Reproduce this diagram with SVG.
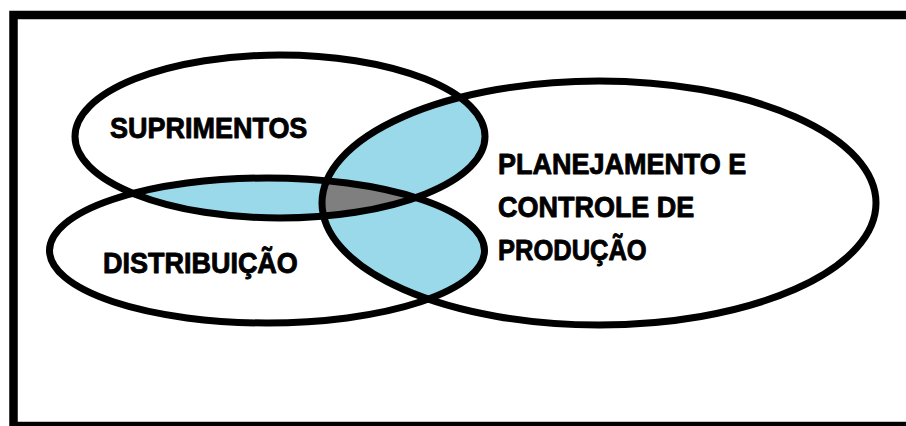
<svg xmlns="http://www.w3.org/2000/svg" width="906" height="426" viewBox="0 0 906 426">
<style>
.ring{fill:none;stroke:#000;stroke-width:7}
.lbl{font-family:"Liberation Sans",Arial,sans-serif;font-weight:bold;font-size:30px;fill:#000;stroke:#000;stroke-width:0.9;stroke-linejoin:round}
.blue{fill:#99D9EA}
.gray{fill:#7F7F7F}
</style>
<defs>
<clipPath id="cS"><ellipse cx="280" cy="136.5" rx="205" ry="81.5"/></clipPath>
<clipPath id="cD"><ellipse cx="267" cy="250.5" rx="217.5" ry="72.5"/></clipPath>
<clipPath id="cP"><ellipse cx="599" cy="203" rx="277" ry="122"/></clipPath>
</defs>
<rect x="0" y="0" width="906" height="426" fill="#fff"/>
<rect id="frame" x="13.5" y="15" width="900" height="411" fill="none" stroke="#000" stroke-width="8.5"/>
<g id="overlaps">
<ellipse class="blue" clip-path="url(#cP)" cx="280" cy="136.5" rx="205" ry="81.5"/>
<ellipse class="blue" clip-path="url(#cP)" cx="267" cy="250.5" rx="217.5" ry="72.5"/>
<ellipse class="blue" clip-path="url(#cD)" cx="280" cy="136.5" rx="205" ry="81.5"/>
<g clip-path="url(#cP)"><ellipse class="gray" clip-path="url(#cD)" cx="280" cy="136.5" rx="205" ry="81.5"/></g>
</g>
<g id="connectors"></g>
<g id="suprimentos">
<ellipse class="ring" cx="280" cy="136.5" rx="205" ry="81.5"/>
<text class="lbl" transform="translate(110,138) scale(0.9,1)">SUPRIMENTOS</text>
</g>
<g id="distribuicao">
<ellipse class="ring" cx="267" cy="250.5" rx="217.5" ry="72.5"/>
<text class="lbl" transform="translate(103,273) scale(0.9,1)">DISTRIBUIÇÃO</text>
</g>
<g id="planejamento">
<ellipse class="ring" cx="599" cy="203" rx="277" ry="122"/>
<text class="lbl" transform="translate(498,174) scale(0.9,1)">PLANEJAMENTO E</text>
<text class="lbl" transform="translate(498,217) scale(0.9,1)">CONTROLE DE</text>
<text class="lbl" transform="translate(498,260) scale(0.85,1)">PRODUÇÃO</text>
</g>
</svg>
